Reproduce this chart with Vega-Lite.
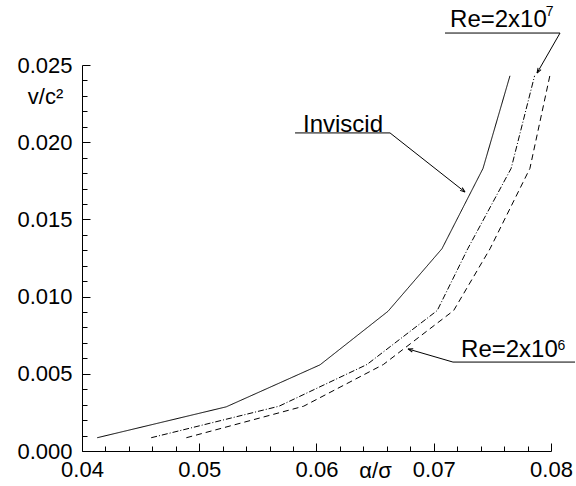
{
  "$schema": "https://vega.github.io/schema/vega-lite/v6.json",
  "width": 469,
  "height": 386,
  "autosize": "none",
  "padding": {"left": 82, "top": 65, "right": 25, "bottom": 35},
  "background": "white",
  "config": {
    "view": {"stroke": null},
    "font": "Liberation Sans",
    "axis": {
      "grid": false,
      "domainColor": "black",
      "domainWidth": 1,
      "tickColor": "black",
      "tickWidth": 1,
      "labelColor": "black",
      "labelFont": "Liberation Sans",
      "labelFontSize": 22,
      "titleFont": "Liberation Sans",
      "titleFontSize": 22,
      "titleFontWeight": "normal",
      "titleColor": "black",
      "labelOverlap": false,
      "labelFlush": false
    }
  },
  "resolve": {"axis": {"x": "independent", "y": "independent"}},
  "datasets": {
    "curves": [
      {"case": "Inviscid", "alpha": 0.0413, "v": 0.00086},
      {"case": "Inviscid", "alpha": 0.0523, "v": 0.00286},
      {"case": "Inviscid", "alpha": 0.0603, "v": 0.00558},
      {"case": "Inviscid", "alpha": 0.0661, "v": 0.00905},
      {"case": "Inviscid", "alpha": 0.0707, "v": 0.0131},
      {"case": "Inviscid", "alpha": 0.0742, "v": 0.0183},
      {"case": "Inviscid", "alpha": 0.0765, "v": 0.0243},
      {"case": "Re=2x10^7", "alpha": 0.0459, "v": 0.00086},
      {"case": "Re=2x10^7", "alpha": 0.0568, "v": 0.0029},
      {"case": "Re=2x10^7", "alpha": 0.0643, "v": 0.0056},
      {"case": "Re=2x10^7", "alpha": 0.0703, "v": 0.0091},
      {"case": "Re=2x10^7", "alpha": 0.0729, "v": 0.0131},
      {"case": "Re=2x10^7", "alpha": 0.0766, "v": 0.0183},
      {"case": "Re=2x10^7", "alpha": 0.0786, "v": 0.0243},
      {"case": "Re=2x10^6", "alpha": 0.0489, "v": 0.00086},
      {"case": "Re=2x10^6", "alpha": 0.0589, "v": 0.0029},
      {"case": "Re=2x10^6", "alpha": 0.0657, "v": 0.0056},
      {"case": "Re=2x10^6", "alpha": 0.0717, "v": 0.0091},
      {"case": "Re=2x10^6", "alpha": 0.0748, "v": 0.0131},
      {"case": "Re=2x10^6", "alpha": 0.0782, "v": 0.0183},
      {"case": "Re=2x10^6", "alpha": 0.0799, "v": 0.0243}
    ],
    "labels": [
      {"label": "Inviscid", "alpha": 0.05885, "v": 0.02068},
      {"label": "Re=2x10", "alpha": 0.07139, "v": 0.02746},
      {"label": "Re=2x10", "alpha": 0.07233, "v": 0.00609}
    ],
    "exponents": [
      {"label": "7", "alpha": 0.07955, "v": 0.02815},
      {"label": "6", "alpha": 0.08055, "v": 0.00654}
    ],
    "leaders": [
      {"ann": "Inviscid", "alpha": 0.05817, "v": 0.0206, "alpha2": 0.06627, "v2": 0.0206},
      {"ann": "Inviscid", "alpha": 0.06627, "v": 0.0206, "alpha2": 0.07267, "v2": 0.01677},
      {"ann": "Re7", "alpha": 0.07096, "v": 0.02707, "alpha2": 0.08077, "v2": 0.02707},
      {"ann": "Re7", "alpha": 0.08077, "v": 0.02707, "alpha2": 0.07881, "v2": 0.02448},
      {"ann": "Re6", "alpha": 0.07164, "v": 0.00576, "alpha2": 0.08205, "v2": 0.00576},
      {"ann": "Re6", "alpha": 0.07164, "v": 0.00576, "alpha2": 0.0678, "v2": 0.00661}
    ],
    "arrows": [
      {"ann": "Inviscid", "alpha": 0.07267, "v": 0.01677},
      {"ann": "Re7", "alpha": 0.07881, "v": 0.02448},
      {"ann": "Re6", "alpha": 0.0678, "v": 0.00661}
    ]
  },
  "layer": [
    {
      "data": {"name": "curves"},
      "mark": {"type": "line", "color": "black", "strokeWidth": 1},
      "encoding": {
        "x": {
          "field": "alpha", "type": "quantitative",
          "scale": {"domain": [0.04, 0.08], "nice": false, "zero": false},
          "axis": {
            "orient": "bottom",
            "title": "α/σ",
            "titleX": 293, "titleY": 26, "titleAlign": "center", "titleBaseline": "alphabetic",
            "values": [0.04, 0.05, 0.06, 0.07, 0.08],
            "format": ".2f",
            "tickSize": -8,
            "labelPadding": 16
          }
        },
        "y": {
          "field": "v", "type": "quantitative",
          "scale": {"domain": [0, 0.025], "nice": false, "zero": false},
          "axis": {
            "orient": "left",
            "title": "v/c²",
            "titleAngle": 0, "titleX": -37, "titleY": 38, "titleAlign": "center", "titleBaseline": "alphabetic",
            "values": [0, 0.005, 0.01, 0.015, 0.02, 0.025],
            "format": ".3f",
            "tickSize": -8,
            "labelPadding": 18
          }
        },
        "detail": {"field": "case"},
        "strokeDash": {
          "field": "case", "type": "nominal",
          "scale": {"domain": ["Inviscid", "Re=2x10^7", "Re=2x10^6"], "range": [[1, 0], [6, 2, 1, 2], [6, 4]]},
          "legend": null
        }
      }
    },
    {
      "data": {"name": "leaders"},
      "mark": {"type": "rule", "color": "black", "strokeWidth": 1},
      "encoding": {
        "x": {
          "field": "alpha", "type": "quantitative",
          "axis": {
            "orient": "bottom", "title": null, "labels": false, "domain": false,
            "values": [0.042,0.044,0.046,0.048,0.052,0.054,0.056,0.058,0.062,0.064,0.066,0.068,0.072,0.074,0.076,0.078],
            "tickSize": -5
          }
        },
        "y": {
          "field": "v", "type": "quantitative",
          "axis": {
            "orient": "left", "title": null, "labels": false, "domain": false,
            "values": [0.001,0.002,0.003,0.004,0.006,0.007,0.008,0.009,0.011,0.012,0.013,0.014,0.016,0.017,0.018,0.019,0.021,0.022,0.023,0.024],
            "tickSize": -5
          }
        },
        "x2": {"field": "alpha2"},
        "y2": {"field": "v2"}
      }
    },
    {
      "data": {"name": "arrows"},
      "transform": [{"filter": "datum.ann == 'Inviscid'"}],
      "mark": {"type": "point", "shape": "M0,0L-1,-0.35M0,0L-1,0.35", "angle": 38, "size": 100, "filled": false, "stroke": "black", "strokeWidth": 1, "opacity": 1},
      "encoding": {
        "x": {"field": "alpha", "type": "quantitative", "axis": null},
        "y": {"field": "v", "type": "quantitative", "axis": null}
      }
    },
    {
      "data": {"name": "arrows"},
      "transform": [{"filter": "datum.ann == 'Re7'"}],
      "mark": {"type": "point", "shape": "M0,0L-1,-0.35M0,0L-1,0.35", "angle": 120, "size": 100, "filled": false, "stroke": "black", "strokeWidth": 1, "opacity": 1},
      "encoding": {
        "x": {"field": "alpha", "type": "quantitative", "axis": null},
        "y": {"field": "v", "type": "quantitative", "axis": null}
      }
    },
    {
      "data": {"name": "arrows"},
      "transform": [{"filter": "datum.ann == 'Re6'"}],
      "mark": {"type": "point", "shape": "M0,0L-1,-0.35M0,0L-1,0.35", "angle": 196, "size": 100, "filled": false, "stroke": "black", "strokeWidth": 1, "opacity": 1},
      "encoding": {
        "x": {"field": "alpha", "type": "quantitative", "axis": null},
        "y": {"field": "v", "type": "quantitative", "axis": null}
      }
    },
    {
      "data": {"name": "labels"},
      "mark": {"type": "text", "align": "left", "baseline": "alphabetic", "font": "Liberation Sans", "fontSize": 24, "color": "black"},
      "encoding": {
        "x": {"field": "alpha", "type": "quantitative", "axis": null},
        "y": {"field": "v", "type": "quantitative", "axis": null},
        "text": {"field": "label"}
      }
    },
    {
      "data": {"name": "exponents"},
      "mark": {"type": "text", "align": "left", "baseline": "alphabetic", "font": "Liberation Sans", "fontSize": 14, "color": "black"},
      "encoding": {
        "x": {"field": "alpha", "type": "quantitative", "axis": null},
        "y": {"field": "v", "type": "quantitative", "axis": null},
        "text": {"field": "label"}
      }
    }
  ]
}
